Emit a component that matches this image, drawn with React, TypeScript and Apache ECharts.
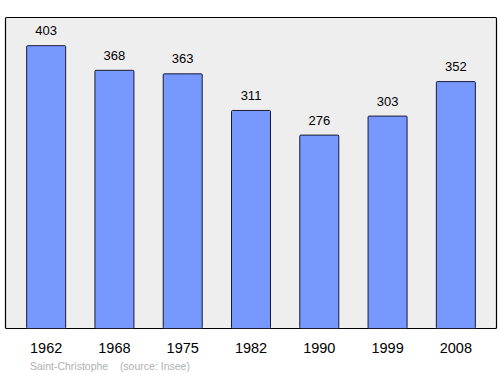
import React, { useEffect, useRef } from "react";
import * as echarts from "echarts";

const years = ["1962", "1968", "1975", "1982", "1990", "1999", "2008"];
const population = [403, 368, 363, 311, 276, 303, 352];
const sourceText = "Saint-Christophe    (source: Insee)";

const FONT = "'Liberation Sans', Arial, sans-serif";

export default function App() {
  const ref = useRef<HTMLDivElement>(null);
  useEffect(() => {
    const chart = echarts.init(ref.current!, null, { renderer: "svg" });
    chart.setOption({
      animation: false,
      graphic: [
        {
          type: "rect",
          z: -10,
          shape: { x: 5.5, y: 17.5, width: 491, height: 311, r: 1 },
          style: { fill: "#eeeeee", stroke: "#000000", lineWidth: 1.2 },
        },
        {
          type: "text",
          left: 30,
          top: 360,
          style: {
            text: sourceText,
            fill: "#b0b0b0",
            font: "10.5px " + FONT,
          },
        },
      ],
      grid: { left: 12, right: 10, top: 17, bottom: 45 },
      xAxis: {
        type: "category",
        data: years,
        axisLine: { show: false },
        axisTick: { show: false },
        axisLabel: {
          color: "#000",
          fontSize: 14.5,
          fontFamily: FONT,
          margin: 11,
        },
      },
      yAxis: {
        type: "value",
        min: 0,
        max: 443,
        show: false,
        splitLine: { show: false },
      },
      series: [
        {
          type: "bar",
          data: population,
          barWidth: 40,
          itemStyle: {
            color: "#7799ff",
            borderColor: "#1a1a33",
            borderWidth: 1,
            borderRadius: 1,
          },
          label: {
            show: true,
            position: "top",
            distance: 8,
            color: "#000",
            fontSize: 13,
            fontFamily: FONT,
          },
        },
      ],
    });
    return () => chart.dispose();
  }, []);
  return <div ref={ref} style={{ width: 500, height: 374, position: "absolute", left: 0, top: 0 }} />;
}
